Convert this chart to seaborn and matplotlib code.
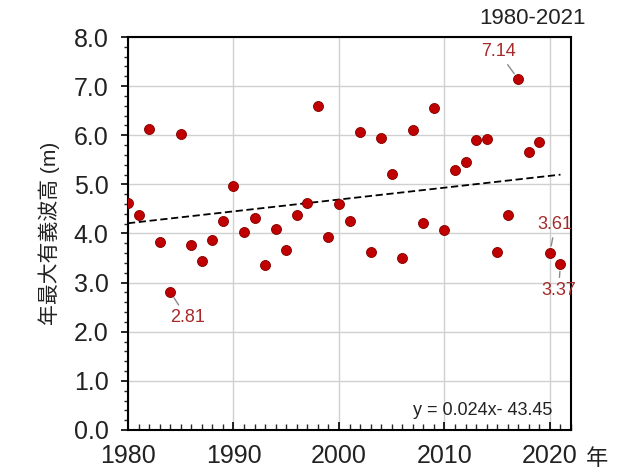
import matplotlib
matplotlib.use("Agg")
import matplotlib.pyplot as plt
import seaborn as sns
import pandas as pd
import numpy as np
from matplotlib.ticker import MultipleLocator

# Annual maximum significant wave height, 1980-2021
years = list(range(1980, 2022))
wave_height = [
    4.62, 4.38, 6.13, 3.83, 2.81, 6.03, 3.77, 3.44, 3.87, 4.26,
    4.97, 4.03, 4.32, 3.36, 4.09, 3.67, 4.38, 4.62, 6.60, 3.93,
    4.60, 4.26, 6.07, 3.63, 5.95, 5.21, 3.50, 6.11, 4.22, 6.56,
    4.07, 5.30, 5.46, 5.91, 5.93, 3.63, 4.38, 7.14, 5.66, 5.87,
    3.61, 3.37,
]
x_ticks = [1980, 1990, 2000, 2010, 2020]
y_ticks = [0.0, 1.0, 2.0, 3.0, 4.0, 5.0, 6.0, 7.0, 8.0]
trend_label = "y = 0.024x- 43.45"
period_label = "1980-2021"
ylabel = "年最大有義波高 (m)"

df = pd.DataFrame({"year": years, "height": wave_height})

sns.set_theme(style="white")
plt.rcParams["font.family"] = ["Liberation Sans", "Noto Sans CJK JP"]

fig = plt.figure(figsize=(6.19, 4.72), dpi=100)
ax = fig.add_axes([0.2068, 0.089, 0.7157, 0.8326])

sns.regplot(data=df, x="year", y="height", ax=ax, scatter=False, ci=None,
            truncate=True,
            line_kws=dict(color="black", lw=1.3, ls=(0, (4, 2))))
sns.scatterplot(data=df, x="year", y="height", ax=ax, s=52,
                color="#c00000", edgecolor="#800000", linewidth=0.6,
                zorder=3, legend=False)

ax.set_xlim(1980, 2022)
ax.set_ylim(0, 8)
ax.set_xticks(x_ticks)
ax.set_yticks(y_ticks)
ax.set_yticklabels([f"{v:.1f}" for v in y_ticks])
ax.xaxis.set_minor_locator(MultipleLocator(1))
ax.yaxis.set_minor_locator(MultipleLocator(0.2))
ax.grid(True, which="major", color="#d0d0d0", lw=1.0)
ax.set_axisbelow(True)

for s in ax.spines.values():
    s.set_visible(True)
    s.set_color("black")
    s.set_linewidth(1.5)

ax.tick_params(axis="y", which="major", direction="out", length=5, width=1.2,
               pad=9, labelsize=18, left=True, colors="black")
ax.tick_params(axis="y", which="minor", direction="out", length=3, width=1.0,
               left=True)
ax.tick_params(axis="x", which="major", direction="in", length=6, width=1.2,
               pad=10, labelsize=18, bottom=True, colors="black")
ax.tick_params(axis="x", which="minor", direction="in", length=4, width=1.0,
               bottom=True)
for lab in ax.get_xticklabels() + ax.get_yticklabels():
    lab.set_color("#222222")

ax.set_xlabel("")
ax.set_ylabel(ylabel, fontsize=15, labelpad=10, color="#222222")

ax.text(1.059, -0.076, "年", transform=ax.transAxes, fontsize=16,
        ha="center", va="center", color="#222222")
ax.text(0.912, 1.048, period_label, transform=ax.transAxes, fontsize=16,
        ha="center", va="center", color="#222222")
ax.text(0.80, 0.05, trend_label, transform=ax.transAxes, fontsize=13,
        ha="center", va="center", color="#222222")

# Value callouts for notable years
label_color = "#a52a2a"
callouts = [
    (1984, 2.81, 1985.6, 2.28),
    (2017, 7.14, 2015.1, 7.70),
    (2020, 3.61, 2020.5, 4.18),
    (2021, 3.37, 2020.8, 2.84),
]
for yr, val, tx, ty in callouts:
    ax.annotate(f"{val:.2f}", xy=(yr, val), xytext=(tx, ty),
                fontsize=13, color=label_color, ha="center", va="center",
                arrowprops=dict(arrowstyle="-", color="#8a8a8a", lw=1.0,
                                shrinkA=1, shrinkB=5))

fig.savefig("out.png", dpi=100)
